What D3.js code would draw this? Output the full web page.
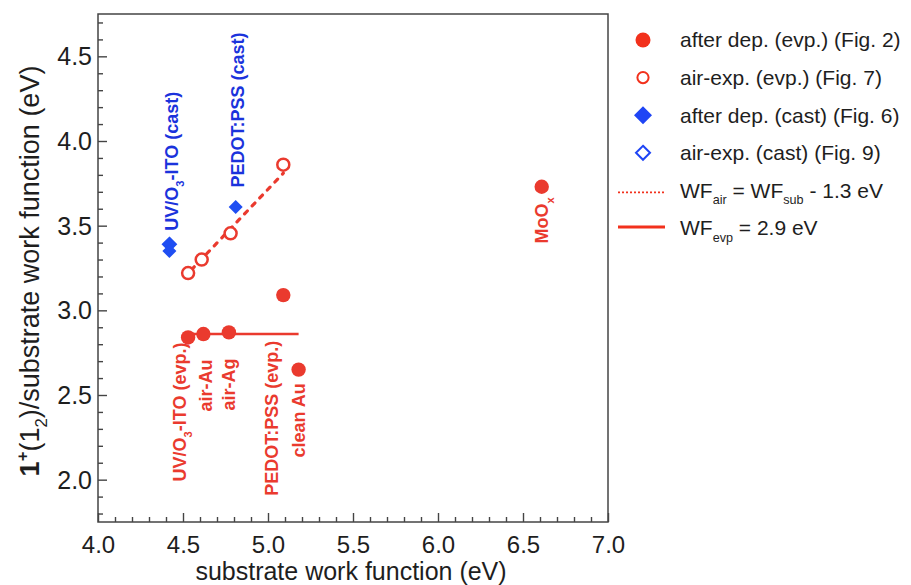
<!DOCTYPE html>
<html>
<head>
<meta charset="utf-8">
<script src="https://cdn.jsdelivr.net/npm/d3@7"></script>
<style>
  html, body { margin: 0; padding: 0; background: #fff; }
  svg { display: block; font-family: "Liberation Sans", Arial, Helvetica, sans-serif; }
</style>
</head>
<body>
<svg id="chart" width="911" height="585"></svg>
<script>
// ---------------- data ----------------
const xDomain = [4.0, 7.0];
const yDomain = [1.75, 4.75];
const xTickValues = [4.0, 4.5, 5.0, 5.5, 6.0, 6.5, 7.0];
const xTickLabels = ["4.0", "4.5", "5.0", "5.5", "6.0", "6.5", "7.0"];
const yTickValues = [2.0, 2.5, 3.0, 3.5, 4.0, 4.5];
const yTickLabels = ["2.0", "2.5", "3.0", "3.5", "4.0", "4.5"];

// after deposition (evaporated) – filled red circles
const afterEvpX = [4.53, 4.62, 4.77, 5.09, 5.18, 6.61];
const afterEvpY = [2.84, 2.86, 2.87, 3.09, 2.65, 3.73];
// air-exposed (evaporated) – open red circles
const airEvpX = [4.53, 4.61, 4.78, 5.09];
const airEvpY = [3.22, 3.30, 3.455, 3.86];
// after deposition (cast) – filled blue diamonds
const afterCastX = [4.42, 4.81];
const afterCastY = [3.35, 3.61];
// air-exposed (cast) – open blue diamonds
const airCastX = [4.42];
const airCastY = [3.39];
// guide lines
const fitAirX = [4.55, 5.09];
const fitAirY = [3.24, 3.81];
const fitEvpX = [4.53, 5.18];
const fitEvpY = [2.86, 2.86];

// annotations (rotated labels)
const annText   = ["UV/O_{3}-ITO (evp.)", "air-Au", "air-Ag", "PEDOT:PSS (evp.)", "clean Au",
                   "UV/O_{3}-ITO (cast)", "PEDOT:PSS (cast)", "MoO_{x}"];
const annX      = [4.482, 4.63, 4.77, 5.02, 5.18, 4.435, 4.82, 6.61];
const annY      = [2.81, 2.71, 2.715, 2.82, 2.57, 3.47, 3.725, 3.395];
const annAnchor = ["end", "end", "end", "end", "end", "start", "start", "start"];
const annGroup  = ["evp", "evp", "evp", "evp", "evp", "cast", "cast", "evp"];

const legendLabels = ["after dep. (evp.) (Fig. 2)", "air-exp. (evp.) (Fig. 7)",
                      "after dep. (cast) (Fig. 6)", "air-exp. (cast) (Fig. 9)",
                      "WF_{air} = WF_{sub} - 1.3 eV", "WF_{evp} = 2.9 eV"];
const legendKinds = ["filledCircle", "openCircle", "filledDiamond", "openDiamond", "dotted", "solid"];

const xTitle = "substrate work function (eV)";

// ---------------- styles ----------------
const RED = "#ea3a2e";
const BLUE = "#1f4ef2";
const BLUE_TEXT = "#1b33dc";
const AXIS = "#444";

// ---------------- layout ----------------
const svg = d3.select("#chart");
const M = { left: 98, top: 14, right: 608, bottom: 522 };

const x = d3.scaleLinear().domain(xDomain).range([M.left, M.right]);
const y = d3.scaleLinear().domain(yDomain).range([M.bottom, M.top]);

// rich text helper: _{..} subscript, ^{..} superscript
function richText(sel, str, subScale) {
  const re = /([_^])\{([^}]*)\}/g;
  let last = 0, m;
  const parts = [];
  while ((m = re.exec(str)) !== null) {
    if (m.index > last) parts.push({ t: str.slice(last, m.index), k: "n" });
    parts.push({ t: m[2], k: m[1] === "_" ? "sub" : "sup" });
    last = re.lastIndex;
  }
  if (last < str.length) parts.push({ t: str.slice(last), k: "n" });
  let shift = 0;
  parts.forEach(p => {
    const ts = sel.append("tspan").text(p.t);
    let target = 0;
    if (p.k === "sub") { target = 0.3; ts.attr("font-size", (subScale || 0.62) + "em"); }
    if (p.k === "sup") { target = -0.45; ts.attr("font-size", (subScale || 0.62) + "em"); }
    const d = target - shift;
    if (d !== 0) ts.attr("dy", (d * (+sel.attr("data-fs"))) + "px");
    shift = target;
  });
}

// ---------------- axes ----------------
const xMinor = d3.range(41, 70).map(v => v / 10).filter(v => Math.abs(v * 2 - Math.round(v * 2)) > 1e-6);
const yMinor = d3.range(18, 48).map(v => v / 10).filter(v => Math.abs(v * 2 - Math.round(v * 2)) > 1e-6);

const gxMinor = svg.append("g").attr("transform", `translate(0,${M.bottom})`)
  .call(d3.axisBottom(x).tickValues(xMinor).tickSize(-5).tickFormat(""));
const gx = svg.append("g").attr("transform", `translate(0,${M.bottom})`)
  .call(d3.axisBottom(x).tickValues(xTickValues).tickSize(-9).tickPadding(14)
    .tickFormat((d, i) => xTickLabels[i]));

const gyMinor = svg.append("g").attr("transform", `translate(${M.left},0)`)
  .call(d3.axisLeft(y).tickValues(yMinor).tickSize(-5).tickFormat(""));
const gy = svg.append("g").attr("transform", `translate(${M.left},0)`)
  .call(d3.axisLeft(y).tickValues(yTickValues).tickSize(-9).tickPadding(6)
    .tickFormat((d, i) => yTickLabels[i]));

[gx, gy, gxMinor, gyMinor].forEach(g => {
  g.selectAll("path.domain").remove();
  g.selectAll("line").attr("stroke", AXIS).attr("stroke-width", 1.4);
  g.selectAll("text").attr("fill", "#1e1e1e").attr("font-size", 25)
    .attr("font-family", "'Liberation Sans', Arial, sans-serif");
});
gx.selectAll("text").attr("font-size", 24).attr("dy", "0.7em");
gy.selectAll("text").attr("dy", "0.34em");

// frame
svg.append("rect")
  .attr("x", M.left).attr("y", M.top)
  .attr("width", M.right - M.left).attr("height", M.bottom - M.top)
  .attr("fill", "none").attr("stroke", AXIS).attr("stroke-width", 1.5);

// axis titles
svg.append("text")
  .attr("x", 351).attr("y", 580)
  .attr("text-anchor", "middle").attr("font-size", 25).attr("fill", "#1e1e1e")
  .text(xTitle);

const yt = svg.append("text")
  .attr("transform", "translate(30,271) rotate(-90)")
  .attr("text-anchor", "middle").attr("dy", "0.35em")
  .attr("font-size", 27).attr("fill", "#1e1e1e");
yt.append("tspan").attr("font-weight", "bold").text("1");
yt.append("tspan").attr("font-size", "0.62em").attr("font-weight", "bold").attr("dy", "-11px").text("+");
yt.append("tspan").attr("dy", "11px").text("(1");
yt.append("tspan").attr("font-size", "0.62em").attr("dy", "8px").text("2");
yt.append("tspan").attr("dy", "-8px").text(")/substrate work function (eV)");

// ---------------- guide lines ----------------
const line = d3.line().x(d => x(d[0])).y(d => y(d[1]));
svg.append("path")
  .datum(d3.zip(fitAirX, fitAirY))
  .attr("d", line).attr("fill", "none")
  .attr("stroke", RED).attr("stroke-width", 3.2)
  .attr("stroke-dasharray", "4,7").attr("stroke-linecap", "round");
svg.append("path")
  .datum(d3.zip(fitEvpX, fitEvpY))
  .attr("d", line).attr("fill", "none")
  .attr("stroke", RED).attr("stroke-width", 2.5);

// ---------------- markers ----------------
function diamondPath(cx, cy, h) {
  return `M${cx},${cy - h}L${cx + h},${cy}L${cx},${cy + h}L${cx - h},${cy}Z`;
}

svg.append("g").selectAll("circle")
  .data(d3.zip(airEvpX, airEvpY)).join("circle")
  .attr("cx", d => x(d[0])).attr("cy", d => y(d[1])).attr("r", 6)
  .attr("fill", "#fff").attr("stroke", RED).attr("stroke-width", 2.5);

svg.append("g").selectAll("circle")
  .data(d3.zip(afterEvpX, afterEvpY)).join("circle")
  .attr("cx", d => x(d[0])).attr("cy", d => y(d[1])).attr("r", 7.2)
  .attr("fill", RED);

svg.append("g").selectAll("path")
  .data(d3.zip(airCastX, airCastY)).join("path")
  .attr("d", d => diamondPath(x(d[0]), y(d[1]), 6.5))
  .attr("fill", BLUE).attr("stroke", BLUE).attr("stroke-width", 2);

svg.append("g").selectAll("path")
  .data(d3.zip(afterCastX, afterCastY)).join("path")
  .attr("d", d => diamondPath(x(d[0]), y(d[1]), 7))
  .attr("fill", BLUE);

// ---------------- annotations ----------------
annText.forEach((t, i) => {
  const tx = svg.append("text")
    .attr("data-fs", 18)
    .attr("transform", `translate(${x(annX[i])},${y(annY[i])}) rotate(-90)`)
    .attr("text-anchor", annAnchor[i])
    .attr("dy", "0.36em")
    .attr("font-size", 18).attr("font-weight", "bold")
    .attr("fill", annGroup[i] === "cast" ? BLUE_TEXT : RED);
  richText(tx, t, 0.62);
});

// ---------------- legend ----------------
const legX = 643, legTextX = 680, legY0 = 40, legDY = 37.6;
legendLabels.forEach((lab, i) => {
  const cy = legY0 + i * legDY;
  const k = legendKinds[i];
  if (k === "filledCircle") {
    svg.append("circle").attr("cx", legX).attr("cy", cy).attr("r", 7.5).attr("fill", "#f2311c");
  } else if (k === "openCircle") {
    svg.append("circle").attr("cx", legX).attr("cy", cy).attr("r", 5.6)
      .attr("fill", "#fff").attr("stroke", "#f2311c").attr("stroke-width", 2);
  } else if (k === "filledDiamond") {
    svg.append("path").attr("d", diamondPath(legX, cy, 9)).attr("fill", "#1f45f5");
  } else if (k === "openDiamond") {
    svg.append("path").attr("d", diamondPath(legX, cy, 7))
      .attr("fill", "#fff").attr("stroke", "#1f45f5").attr("stroke-width", 2);
  } else if (k === "dotted") {
    svg.append("line").attr("x1", 618).attr("x2", 665).attr("y1", cy + 2).attr("y2", cy + 2)
      .attr("stroke", "#f2311c").attr("stroke-width", 1.8).attr("stroke-dasharray", "2,2");
  } else if (k === "solid") {
    svg.append("line").attr("x1", 618).attr("x2", 665).attr("y1", cy - 1).attr("y2", cy - 1)
      .attr("stroke", "#f2311c").attr("stroke-width", 3);
  }
  const tx = svg.append("text")
    .attr("data-fs", 21)
    .attr("x", legTextX).attr("y", cy).attr("dy", "0.35em")
    .attr("font-size", 21).attr("fill", "#1e1e1e");
  richText(tx, lab, 0.6);
});
</script>
</body>
</html>
